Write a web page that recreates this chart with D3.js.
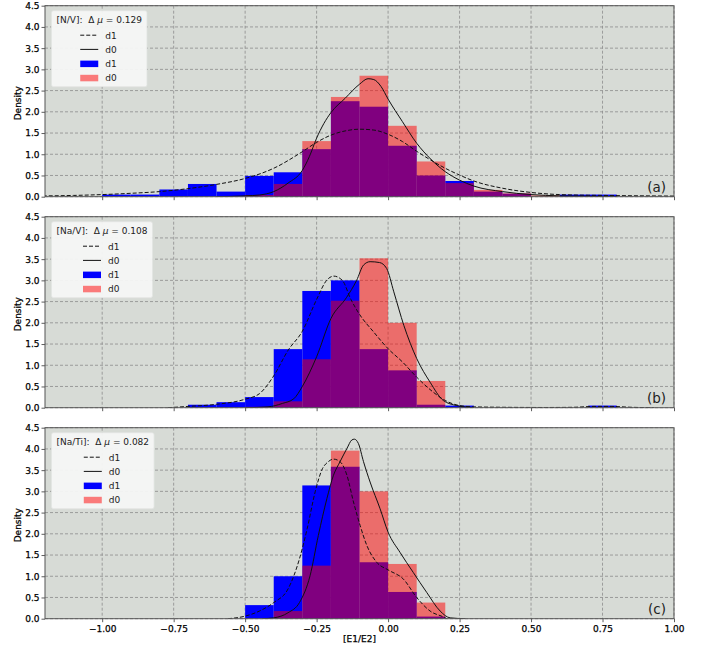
<!DOCTYPE html>
<html><head><meta charset="utf-8">
<script src="https://cdn.jsdelivr.net/npm/d3@7"></script>
<style>
html,body{margin:0;padding:0;background:#fff;}
svg{display:block;font-family:"DejaVu Sans",sans-serif;}
text{white-space:pre;}
</style></head>
<body><svg id="c" width="703" height="647"></svg>
<script>
// ---------------- data ----------------
const binEdges = [-1.0,-0.9,-0.8,-0.7,-0.6,-0.5,-0.4,-0.3,-0.2,-0.1,0.0,0.1,0.2,0.3,0.4,0.5,0.6,0.7,0.8];
const panelNames = ["(a)","(b)","(c)"];
const legendTitles = [["[N/V]:  Δ ","μ"," = 0.129"],["[Na/V]:  Δ ","μ"," = 0.108"],["[Na/Ti]:  Δ ","μ"," = 0.082"]];
const xTicks = [-1.0,-0.75,-0.5,-0.25,0.0,0.25,0.5,0.75,1.0];
const yTicks = [0.0,0.5,1.0,1.5,2.0,2.5,3.0,3.5,4.0,4.5];
// histogram densities per bin (bins of binEdges)
const histA_d1 = [0.05,0.05,0.17,0.30,0.12,0.49,0.575,1.12,2.25,2.12,1.20,0.50,0.37,0.12,0.07,0.0,0.05,0.05];
const histA_d0 = [0,0,0,0,0,0.04,0.30,1.31,2.35,2.85,1.67,0.83,0.32,0.16,0.08,0.03,0,0];
const histB_d1 = [0,0,0,0.07,0.13,0.25,1.38,2.75,3.0,1.38,0.88,0.07,0.05,0,0,0,0,0.05];
const histB_d0 = [0,0,0,0,0,0.02,0.15,1.14,2.52,3.52,2.0,0.63,0,0,0,0,0,0];
const histC_d1 = [0,0,0,0,0,0.32,1.0,3.14,3.58,1.33,0.63,0.05,0,0,0,0,0,0];
const histC_d0 = [0,0,0,0,0,0,0.18,1.25,3.96,3.0,1.29,0.38,0,0,0,0,0,0];
// KDE curves: [x, density]
const kdeA_d1 = [[-1.25,0.02],[-1.2,0.02],[-1.1,0.03],[-1.0,0.05],[-0.9,0.08],[-0.8,0.12],[-0.7,0.19],[-0.6,0.29],[-0.5,0.43],[-0.4,0.67],[-0.3,1.06],[-0.25,1.28],[-0.2,1.45],[-0.15,1.55],[-0.1,1.59],[-0.05,1.57],[0.0,1.47],[0.05,1.30],[0.1,1.07],[0.15,0.86],[0.2,0.67],[0.25,0.51],[0.3,0.37],[0.4,0.20],[0.5,0.10],[0.6,0.05],[0.75,0.03],[0.9,0.02],[1.0,0.015]];
const kdeA_d0 = [[-0.6,0.0],[-0.5,0.02],[-0.45,0.04],[-0.4,0.12],[-0.35,0.32],[-0.3,0.62],[-0.275,0.95],[-0.25,1.38],[-0.225,1.72],[-0.2,1.98],[-0.15,2.32],[-0.1,2.65],[-0.07,2.78],[-0.05,2.76],[-0.025,2.6],[0.0,2.3],[0.05,1.77],[0.1,1.26],[0.15,0.88],[0.2,0.59],[0.25,0.39],[0.3,0.25],[0.4,0.12],[0.5,0.05],[0.6,0.02],[0.7,0.01],[0.8,0.0]];
const kdeB_d1 = [[-0.77,0.0],[-0.7,0.03],[-0.6,0.08],[-0.5,0.2],[-0.45,0.33],[-0.4,0.75],[-0.35,1.35],[-0.3,1.8],[-0.25,2.55],[-0.215,3.0],[-0.19,3.1],[-0.16,3.0],[-0.13,2.55],[-0.1,2.2],[-0.05,1.78],[0.0,1.39],[0.05,1.08],[0.1,0.72],[0.15,0.41],[0.2,0.17],[0.25,0.05],[0.3,0.02],[0.4,0.01],[0.55,0.005],[0.65,0.01],[0.72,0.03],[0.78,0.03],[0.85,0.01],[0.93,0.0]];
const kdeB_d0 = [[-0.5,0.0],[-0.42,0.02],[-0.37,0.1],[-0.33,0.21],[-0.3,0.5],[-0.25,1.2],[-0.2,2.1],[-0.145,2.6],[-0.11,3.0],[-0.086,3.36],[-0.063,3.44],[-0.03,3.42],[-0.005,3.28],[0.02,2.73],[0.055,1.94],[0.1,1.16],[0.147,0.6],[0.193,0.17],[0.24,0.05],[0.3,0.0]];
const kdeC_d1 = [[-0.56,0.0],[-0.5,0.06],[-0.45,0.18],[-0.4,0.38],[-0.35,0.70],[-0.31,1.41],[-0.283,2.12],[-0.255,2.99],[-0.232,3.5],[-0.209,3.7],[-0.191,3.76],[-0.168,3.7],[-0.144,3.38],[-0.121,2.75],[-0.098,2.2],[-0.074,1.72],[-0.04,1.33],[0.0,1.15],[0.054,0.93],[0.1,0.5],[0.147,0.18],[0.2,0.02],[0.205,0.0]];
const kdeC_d0 = [[-0.44,0.0],[-0.4,0.02],[-0.35,0.14],[-0.31,0.38],[-0.273,1.01],[-0.244,1.96],[-0.214,2.83],[-0.191,3.38],[-0.168,3.7],[-0.144,4.01],[-0.127,4.21],[-0.118,4.23],[-0.104,4.13],[-0.086,3.7],[-0.063,3.22],[-0.028,2.59],[0.0,2.04],[0.042,1.56],[0.088,1.09],[0.135,0.62],[0.182,0.18],[0.217,0.02],[0.27,0.0]];

const panels = [
  {hist1:histA_d1, hist0:histA_d0, kde1:kdeA_d1, kde0:kdeA_d0},
  {hist1:histB_d1, hist0:histB_d0, kde1:kdeB_d1, kde0:kdeB_d0},
  {hist1:histC_d1, hist0:histC_d0, kde1:kdeC_d1, kde0:kdeC_d0}
];

// ---------------- layout ----------------
const svg = d3.select("#c");
const L = 45, R = 674, panelH = 191;
const tops = [5.7, 216.7, 427.7];
const x = d3.scaleLinear().domain([-1.2, 1.0]).range([L, R]);
const BG = "#d7dbd6", GRID = "#8c8c8c", SPINE = "#555";
const fmt = d => d3.format(".2f")(d).replace("-", "\u2212");

panels.forEach((p, i) => {
  const top = tops[i], bot = top + panelH;
  const y = d3.scaleLinear().domain([0, 4.5]).range([bot, top]);
  const g = svg.append("g");
  const clipId = "clip" + i;
  svg.append("clipPath").attr("id", clipId).append("rect")
     .attr("x", L).attr("y", top).attr("width", R - L).attr("height", panelH);

  g.append("rect").attr("x", L).attr("y", top).attr("width", R - L).attr("height", panelH).attr("fill", BG);

  // grid
  const grid = g.append("g").attr("stroke", GRID).attr("stroke-width", 0.8).attr("stroke-dasharray", "3,2");
  grid.selectAll(".gx").data(xTicks).join("line")
      .attr("x1", d => x(d)).attr("x2", d => x(d)).attr("y1", top).attr("y2", bot);
  grid.selectAll(".gy").data(yTicks).join("line")
      .attr("x1", L).attr("x2", R).attr("y1", d => y(d)).attr("y2", d => y(d));

  const body = g.append("g").attr("clip-path", `url(#${clipId})`);
  const bins = binEdges.slice(0, -1).map((e, k) => ({x0: e, x1: binEdges[k + 1]}));
  // d1 histogram (blue, opaque)
  body.append("g").selectAll("rect").data(bins.map((b, k) => ({...b, v: p.hist1[k]})).filter(d => d.v > 0))
      .join("rect").attr("x", d => x(d.x0)).attr("width", d => x(d.x1) - x(d.x0))
      .attr("y", d => y(d.v)).attr("height", d => y(0) - y(d.v)).attr("fill", "#0000ff");
  // d0 histogram (red, alpha 0.5)
  body.append("g").selectAll("rect").data(bins.map((b, k) => ({...b, v: p.hist0[k]})).filter(d => d.v > 0))
      .join("rect").attr("x", d => x(d.x0)).attr("width", d => x(d.x1) - x(d.x0))
      .attr("y", d => y(d.v)).attr("height", d => y(0) - y(d.v)).attr("fill", "#ff0000").attr("fill-opacity", 0.5);

  const line = d3.line().x(d => x(d[0])).y(d => y(d[1])).curve(d3.curveMonotoneX);
  body.append("path").attr("d", line(p.kde1)).attr("fill", "none").attr("stroke", "#111")
      .attr("stroke-width", 1).attr("stroke-dasharray", "4,2");
  body.append("path").attr("d", line(p.kde0)).attr("fill", "none").attr("stroke", "#111")
      .attr("stroke-width", 1);

  // axes
  const xa = d3.axisBottom(x).tickValues(xTicks).tickSize(3.5).tickPadding(3)
      .tickFormat(i === 2 ? fmt : () => "");
  const xg = g.append("g").attr("transform", `translate(0,${bot})`).call(xa);
  const ya = d3.axisLeft(y).tickValues(yTicks).tickSize(3.5).tickPadding(2).tickFormat(d3.format(".1f"));
  const yg = g.append("g").attr("transform", `translate(${L},0)`).call(ya);
  [xg, yg].forEach(a => {
    a.select(".domain").remove();
    a.selectAll(".tick line").attr("stroke", "#333").attr("stroke-width", 0.8);
    a.selectAll(".tick text").attr("fill", "#000").attr("font-size", 9)
     .attr("font-family", "DejaVu Sans").attr("stroke", "#000").attr("stroke-width", 0.25);
  });
  // frame
  g.append("rect").attr("x", L).attr("y", top).attr("width", R - L).attr("height", panelH)
   .attr("fill", "none").attr("stroke", SPINE).attr("stroke-width", 1);

  // y label
  g.append("text").attr("transform", `translate(21,${(top + bot) / 2 + 2}) rotate(-90)`)
   .attr("text-anchor", "middle").attr("font-size", 9).attr("fill", "#000")
   .attr("stroke", "#000").attr("stroke-width", 0.25).text("Density");

  // panel tag
  g.append("text").attr("x", 666).attr("y", bot - 5).attr("text-anchor", "end")
   .attr("font-size", 13.5).attr("fill", "#222").text(panelNames[i]);

  // legend
  const lg = g.append("g");
  const lx = L + 6.5, ly = top + 5;
  const box = lg.append("rect").attr("x", lx).attr("y", ly).attr("height", 76).attr("rx", 2)
     .attr("fill", "#f6f7f6").attr("fill-opacity", 0.95).attr("stroke", "#e2e4e2").attr("stroke-width", 0.8);
  const tt = lg.append("text").attr("y", ly + 12.5).attr("font-size", 9).attr("fill", "#222");
  legendTitles[i].forEach((s, k) => tt.append("tspan").attr("font-style", k === 1 ? "italic" : "normal").text(s));
  const tw = tt.node().getComputedTextLength();
  const bw = tw + 10;
  box.attr("width", bw);
  tt.attr("x", lx + 5);
  const cx = lx + bw / 2;
  const entries = [
    {kind: "dash", label: "d1"}, {kind: "solid", label: "d0"},
    {kind: "blue", label: "d1"}, {kind: "red", label: "d0"}
  ];
  const hx0 = cx - 19, hx1 = hx0 + 18;
  entries.forEach((e, k) => {
    const yy = ly + 24.5 + k * 14.2;
    if (e.kind === "dash" || e.kind === "solid") {
      lg.append("line").attr("x1", hx0).attr("x2", hx1).attr("y1", yy).attr("y2", yy)
        .attr("stroke", "#111").attr("stroke-width", 1)
        .attr("stroke-dasharray", e.kind === "dash" ? "4,2" : null);
    } else {
      lg.append("rect").attr("x", hx0).attr("y", yy - 3).attr("width", 18).attr("height", 6.5)
        .attr("fill", e.kind === "blue" ? "#0000ff" : "#ff0000")
        .attr("fill-opacity", e.kind === "blue" ? 1 : 0.5);
    }
    lg.append("text").attr("x", hx1 + 7).attr("y", yy + 3.3).attr("font-size", 9).attr("fill", "#222").text(e.label);
  });
});

// x label
svg.append("text").attr("x", (L + R) / 2).attr("y", 642).attr("text-anchor", "middle")
   .attr("font-size", 9).attr("fill", "#000").attr("stroke", "#000").attr("stroke-width", 0.25).text("[E1/E2]");
</script></body></html>
